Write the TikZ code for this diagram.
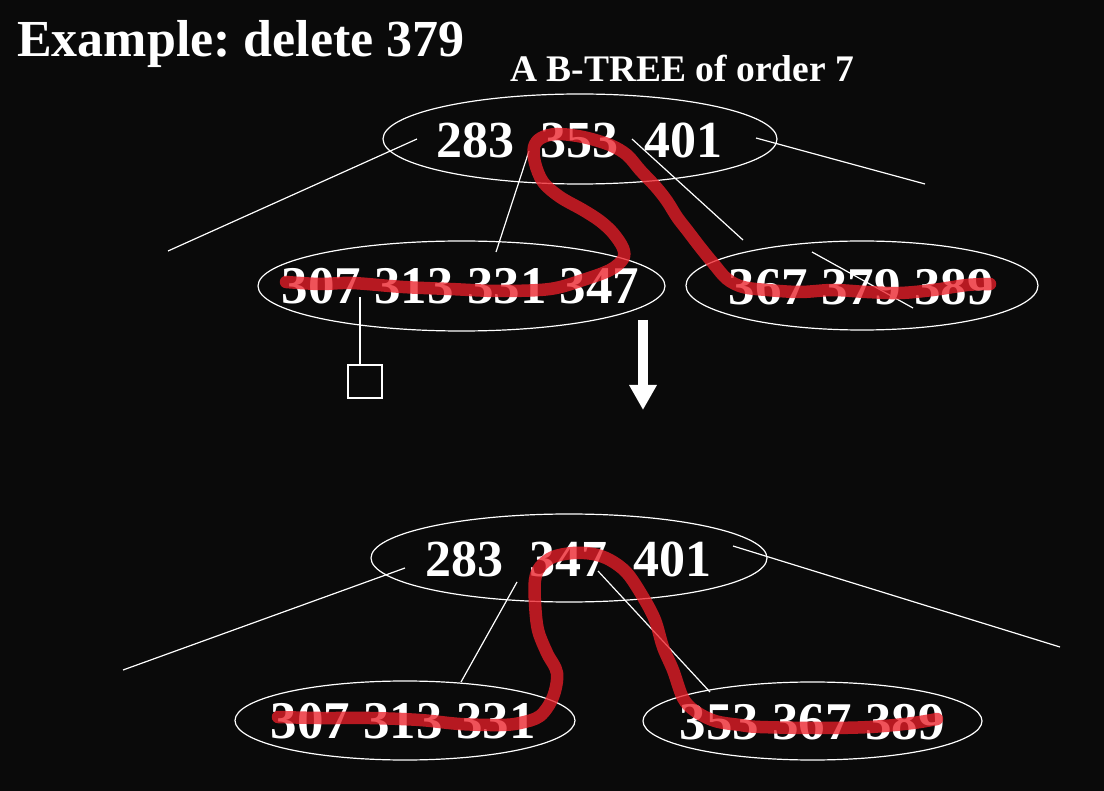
\documentclass[tikz,border=0pt]{standalone}
\usepackage{fontspec}
\setmainfont{Liberation Serif}
\usetikzlibrary{shapes.geometric,arrows.meta}
\definecolor{bg}{RGB}{10,10,10}
\definecolor{hl}{RGB}{235,30,40}
\frenchspacing
\begin{document}
\begin{tikzpicture}[x=1pt,y=-1pt,
  ell/.style={draw=white, line width=1.2pt, ellipse, inner sep=0pt},
  num/.style={text=white, inner sep=0pt, font=\fontsize{53}{60}\selectfont\bfseries},
  rootnum/.style={text=white, inner sep=0pt, font=\fontsize{52}{58}\selectfont\bfseries},
  link/.style={draw=white, line width=1.2pt},
  trail/.style={draw=hl, opacity=0.77, line width=12.5pt, line cap=round, line join=round}]
\fill[bg] (0,0) rectangle (1104,791);
\useasboundingbox (0,0) rectangle (1104,791);

% titles
\node[text=white, inner sep=0pt, anchor=base west, font=\fontsize{52}{58}\selectfont\bfseries] (title) at (17,57) {Example: delete 379};
\node[text=white, inner sep=0pt, anchor=base west, font=\fontsize{37.5}{42}\selectfont\bfseries] (sub) at (510,82) {A B-TREE of order 7};

% ---- upper tree ----
\node[ell, minimum width=394pt, minimum height=90pt] (r1) at (580,139) {};
\node[rootnum] (r1t) at (579.5,140.5) {283~~353~~401};
\node[ell, minimum width=407pt, minimum height=90pt] (l1) at (461.5,286) {};
\node[num] (l1t) at (460.5,286.5) {307 313 331 347};
\node[ell, minimum width=352pt, minimum height=89pt] (l2) at (862,285.5) {};
\node[num] (l2t) at (861,287) {367 379 389};
\node[draw=white, line width=1.5pt, inner sep=0pt, minimum width=34pt, minimum height=33pt] (box) at (365,381.5) {};

\coordinate (p1a) at (417,139); \coordinate (p1b) at (168,251);
\coordinate (p2a) at (529,151); \coordinate (p2b) at (496,252);
\coordinate (p3a) at (632,139); \coordinate (p3b) at (743,240);
\coordinate (p4a) at (756,138); \coordinate (p4b) at (925,184);
\coordinate (sa) at (812,252);  \coordinate (sb) at (913,308);
\coordinate (stem) at (360,297);
\draw[link] (p1a) -- (p1b);
\draw[link] (p2a) -- (p2b);
\draw[link] (p3a) -- (p3b);
\draw[link] (p4a) -- (p4b);
\draw[link] (sa) -- (sb);
\draw[link] (stem) -- (stem |- box.north);

% arrow
\coordinate (a1) at (643,320); \coordinate (a2) at (643,410);
\draw[white, line width=10pt, -{Triangle[width=26pt,length=25pt]}] (a1) -- (a2);

% ---- lower tree ----
\node[ell, minimum width=396pt, minimum height=88pt] (r2) at (569,558) {};
\node[rootnum] (r2t) at (568.5,559.5) {283~~347~~401};
\node[ell, minimum width=340pt, minimum height=79pt] (l3) at (405,720.5) {};
\node[num] (l3t) at (403,721.5) {307 313 331};
\node[ell, minimum width=339pt, minimum height=78pt] (l4) at (812.5,721) {};
\node[num] (l4t) at (812,722.5) {353 367 389};

\coordinate (q1a) at (405,568); \coordinate (q1b) at (123,670);
\coordinate (q2a) at (517,582); \coordinate (q2b) at (461,682);
\coordinate (q3a) at (598,571); \coordinate (q3b) at (710,692);
\coordinate (q4a) at (733,546); \coordinate (q4b) at (1060,647);
\draw[link] (q1a) -- (q1b);
\draw[link] (q2a) -- (q2b);
\draw[link] (q3a) -- (q3b);
\draw[link] (q4a) -- (q4b);

% ---- red traversal trails ----
\draw[trail] plot[smooth, tension=0.55] coordinates {
 (286,282) (320,284) (352,283) (403,287) (450,289) (500,291) (550,289)
 (583,280) (610,270) (623,259) (623,248) (613,233) (600,221) (583,210)
 (560,197) (543,182) (535,163) (534,147) (541,138) (557,134) (583,137)
 (610,145) (627,155) (640,170) (656,187) (667,201) (677,217) (687,230)
 (700,247) (713,263) (727,279) (743,287) (767,290) (800,292) (833,290)
 (867,292) (900,293) (933,290) (967,285) (990,284)};
\draw[trail] plot[smooth, tension=0.55] coordinates {
 (278,717) (320,718) (370,718) (420,720) (460,724) (500,725) (520,723)
 (540,716) (553,697) (557,673) (547,653) (538,630) (535,603) (535,580)
 (540,567) (553,557) (573,553) (593,554) (610,560) (627,573) (643,597)
 (655,620) (663,647) (673,670) (683,698) (695,711) (715,721) (740,725)
 (760,727) (820,728) (870,727) (913,723) (937,719)};
\end{tikzpicture}
\end{document}
